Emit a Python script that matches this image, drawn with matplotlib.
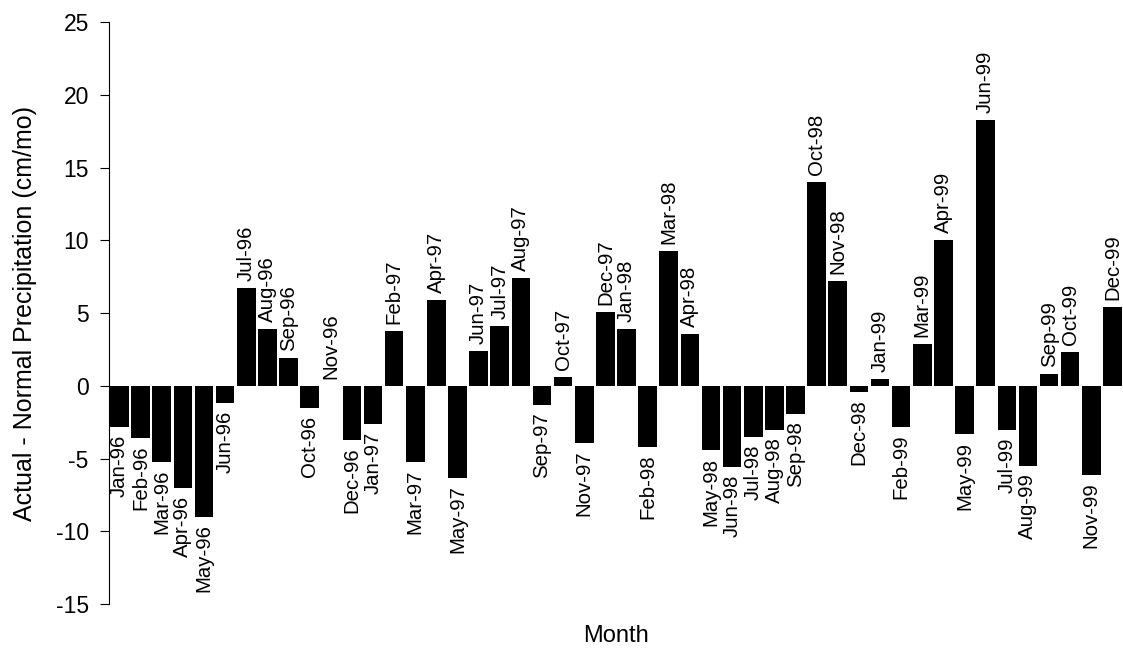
import matplotlib
matplotlib.use("Agg")
import matplotlib.pyplot as plt
import numpy as np

# monthly departure from normal precipitation (cm/mo)
months = ["Jan", "Feb", "Mar", "Apr", "May", "Jun",
          "Jul", "Aug", "Sep", "Oct", "Nov", "Dec"]
years = ["96", "97", "98", "99"]
labels = [m + "-" + y for y in years for m in months]

values = [
    -2.8, -3.6, -5.2, -7.0, -9.0, -1.2, 6.7, 3.9, 1.9, -1.5, 0.0, -3.7,   # 1996
    -2.6, 3.8, -5.2, 5.9, -6.3, 2.4, 4.1, 7.4, -1.3, 0.6, -3.9, 5.1,      # 1997
    3.9, -4.2, 9.3, 3.6, -4.4, -5.6, -3.5, -3.0, -1.9, 14.0, 7.2, -0.4,   # 1998
    0.5, -2.8, 2.9, 10.0, -3.3, 18.3, -3.0, -5.5, 0.8, 2.3, -6.1, 5.4,    # 1999
]

plt.rcParams['font.family'] = ['Liberation Sans', 'DejaVu Sans']
plt.rcParams['axes.unicode_minus'] = False

fig = plt.figure(figsize=(11.23, 6.49), dpi=100)
ax = fig.add_axes([0.097, 0.069, 0.903, 0.897])

x = np.arange(len(values))
ax.bar(x, values, width=0.88, color='black', linewidth=0)

# month labels above positive bars, below negative bars
for xi, v, lab in zip(x, values, labels):
    if v >= 0:
        ax.annotate(lab, (xi, v), xytext=(0, 5), textcoords='offset points',
                    rotation=90, ha='center', va='bottom', fontsize=14.7)
    else:
        ax.annotate(lab, (xi, v), xytext=(0, -5.5), textcoords='offset points',
                    rotation=90, ha='center', va='top', fontsize=14.7)

ax.set_xlim(-0.5, len(values) - 0.5)
ax.set_ylim(-15, 25)
ax.set_yticks(np.arange(-15, 26, 5))
ax.tick_params(axis='y', direction='out', length=6.5, width=0.8, labelsize=16.5, pad=8)
ax.set_xticks([])

for s in ['top', 'right', 'bottom']:
    ax.spines[s].set_visible(False)
ax.spines['left'].set_linewidth(0.8)

ax.set_ylabel("Actual - Normal Precipitation (cm/mo)", fontsize=18)
ax.yaxis.set_label_coords(-0.071, 0.5)
ax.set_xlabel("Month", fontsize=17)
ax.xaxis.set_label_coords(0.5, -0.035)

fig.savefig("out.png", dpi=100)
